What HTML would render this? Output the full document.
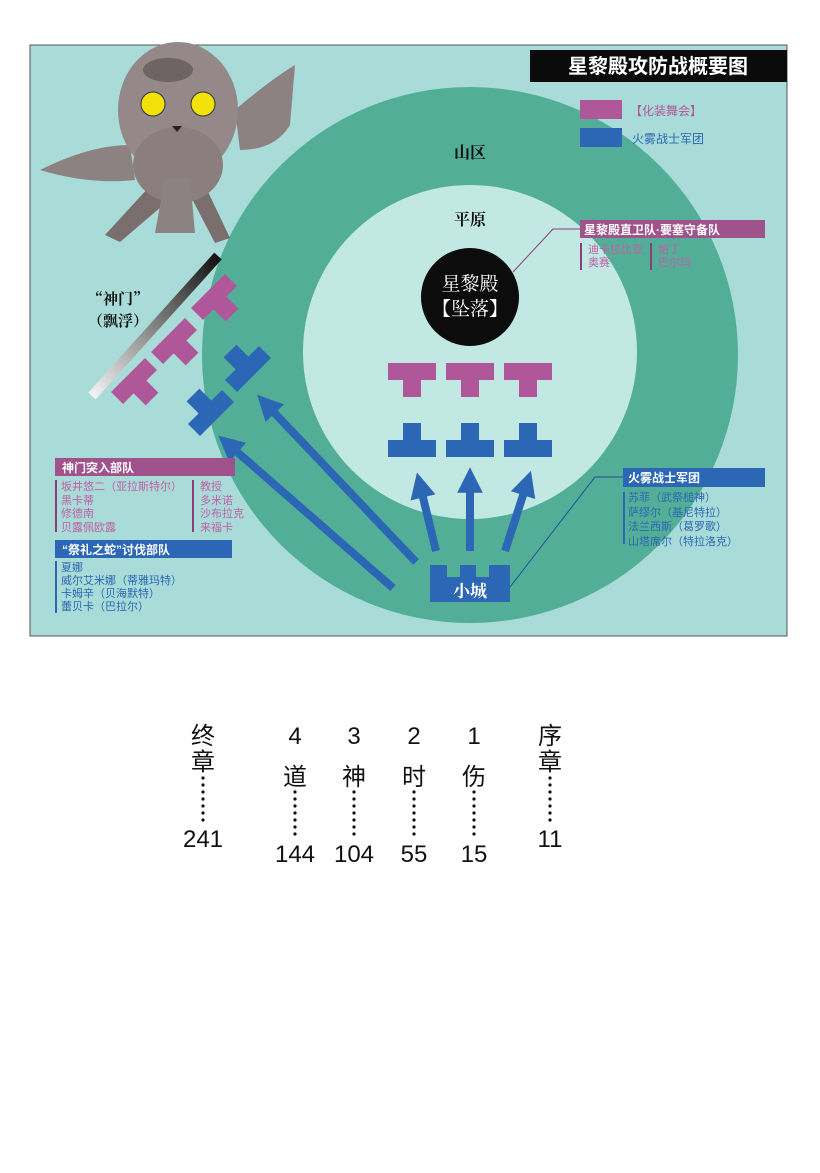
<!DOCTYPE html>
<html><head><meta charset="utf-8"><style>
html,body{margin:0;padding:0;background:#fff;}
svg{display:block}
text{font-family:"Liberation Sans","Noto Sans CJK SC",sans-serif;}
.s{font-family:"Noto Serif CJK SC","Liberation Serif",serif;}
</style></head><body>
<svg width="820" height="1173" viewBox="0 0 820 1173" xmlns="http://www.w3.org/2000/svg">
<defs>
<linearGradient id="gate" x1="1" y1="0" x2="0" y2="1">
<stop offset="0" stop-color="#111"/><stop offset="1" stop-color="#f4f4f4"/></linearGradient>
<clipPath id="mapc"><rect x="30" y="45" width="757" height="591"/></clipPath>
<g id="pT"><path d="M-24,-17h48v17h-15v17h-18v-17h-15z" fill="#b0579a"/></g>
<g id="bT"><path d="M-9,-17h18v17h15v17h-48v-17h15z" fill="#2b67b4"/></g>
<g id="d7"><circle cx="0" cy="0" r="1.6"/><circle cx="0" cy="7" r="1.6"/><circle cx="0" cy="14" r="1.6"/><circle cx="0" cy="21" r="1.6"/><circle cx="0" cy="28" r="1.6"/><circle cx="0" cy="35" r="1.6"/><circle cx="0" cy="42" r="1.6"/></g>
<marker id="ah" viewBox="0 0 10 10" refX="5" refY="5" markerWidth="3.2" markerHeight="3.2" orient="auto"><path d="M0,0L10,5L0,10z" fill="#2b67b4"/></marker>
</defs>
<rect x="30" y="45" width="757" height="591" fill="#a9dcd8" stroke="#555" stroke-width="1"/>
<g clip-path="url(#mapc)">
<circle cx="470" cy="355" r="268" fill="#53ae98"/>
<circle cx="470" cy="352" r="167" fill="#c2e8e4"/>
</g>
<!-- owl -->
<g>
<path d="M40,170 Q90,145 130,145 L135,180 Q90,185 40,170z" fill="#8d8282"/>
<path d="M235,110 Q270,80 295,65 L290,125 Q275,150 240,150z" fill="#8d8282"/>
<path d="M160,175 L105,235 L120,242 L175,195z" fill="#7a6e6e"/>
<path d="M200,175 L230,238 L215,243 L190,195z" fill="#7a6e6e"/>
<ellipse cx="178" cy="110" rx="60" ry="68" fill="#948888"/>
<ellipse cx="178" cy="165" rx="45" ry="38" fill="#8a7e7e"/>
<path d="M165,178 L155,233 L195,233 L190,178z" fill="#8d8282"/>
<ellipse cx="168" cy="70" rx="25" ry="12" fill="#6e6464"/>
<circle cx="153" cy="104" r="12" fill="#f2e20a" stroke="#333"/>
<circle cx="203" cy="104" r="12" fill="#f2e20a" stroke="#333"/>
<path d="M172,126 L182,126 L177,132z" fill="#222"/>
</g>
<!-- gate -->
<line x1="218" y1="256" x2="92" y2="396" stroke="url(#gate)" stroke-width="10"/>
<text x="118" y="304" class="s" font-size="15" font-weight="bold" text-anchor="middle" fill="#111">“神门”</text>
<text x="118" y="326" class="s" font-size="15" font-weight="bold" text-anchor="middle" fill="#111">（飘浮）</text>
<use href="#pT" transform="translate(220,303) rotate(-45)"/>
<use href="#pT" transform="translate(180,347) rotate(-45)"/>
<use href="#pT" transform="translate(140,387) rotate(-45)"/>
<use href="#bT" transform="translate(242,363) rotate(-45)"/>
<use href="#bT" transform="translate(205,407) rotate(-45)"/>
<!-- arrows -->
<g stroke="#2b67b4" stroke-width="8" fill="none" marker-end="url(#ah)">
<line x1="436" y1="551" x2="420" y2="485"/>
<line x1="470" y1="551" x2="470" y2="480"/>
<line x1="505" y1="551" x2="527" y2="483"/>
<line x1="416" y1="562" x2="266" y2="404"/>
<line x1="393" y1="588" x2="228" y2="444"/>
</g>
<!-- center Ts -->
<use href="#pT" transform="translate(412,380)"/>
<use href="#pT" transform="translate(470,380)"/>
<use href="#pT" transform="translate(528,380)"/>
<use href="#bT" transform="translate(412,440)"/>
<use href="#bT" transform="translate(470,440)"/>
<use href="#bT" transform="translate(528,440)"/>
<!-- castle -->
<path d="M430,565h17v12h13v-12h16v12h13v-12h21v37h-80z" fill="#2b67b4"/>
<text x="470" y="597" class="s" font-size="17" font-weight="bold" text-anchor="middle" fill="#fff">小城</text>
<!-- labels -->
<text x="470" y="158" class="s" font-size="16" font-weight="bold" text-anchor="middle" fill="#111">山区</text>
<text x="470" y="225" class="s" font-size="16" font-weight="bold" text-anchor="middle" fill="#111">平原</text>
<circle cx="470" cy="297" r="49" fill="#0c0c0c"/>
<text x="470" y="290" class="s" font-size="19" text-anchor="middle" fill="#fff">星黎殿</text>
<text x="470" y="315" class="s" font-size="19" text-anchor="middle" fill="#fff">【坠落】</text>
<!-- title -->
<rect x="530" y="50" width="257" height="32" fill="#0b0b0b"/>
<text x="658" y="73" font-size="20" font-weight="bold" text-anchor="middle" fill="#fff">星黎殿攻防战概要图</text>
<!-- legend -->
<rect x="580" y="100" width="42" height="19" fill="#b0579a"/>
<text x="630" y="115" font-size="12" fill="#b0579a">【化装舞会】</text>
<rect x="580" y="128" width="42" height="19" fill="#2b67b4"/>
<text x="632" y="143" font-size="12" fill="#2b67b4">火雾战士军团</text>
<!-- direct guard -->
<polyline points="513,272 553,229 580,229" stroke="#8c3d7a" fill="none" stroke-width="1"/>
<rect x="580" y="220" width="185" height="18" fill="#a0528d"/>
<text x="584" y="234" font-size="12" font-weight="bold" fill="#fff">星黎殿直卫队·要塞守备队</text>
<rect x="580" y="243" width="2" height="27" fill="#8c3d7a"/>
<rect x="650" y="243" width="2" height="27" fill="#8c3d7a"/>
<text x="588" y="253" font-size="11" fill="#c060a8">迪卡拉比亚</text>
<text x="588" y="266" font-size="11" fill="#c060a8">奥赛</text>
<text x="658" y="253" font-size="11" fill="#c060a8">帕丁</text>
<text x="658" y="266" font-size="11" fill="#c060a8">巴尔玛</text>
<!-- flame haze -->
<polyline points="510,587 595,477 623,477" stroke="#1f4f95" fill="none" stroke-width="1"/>
<rect x="623" y="468" width="142" height="19" fill="#2b67b4"/>
<text x="628" y="482" font-size="12" font-weight="bold" fill="#fff">火雾战士军团</text>
<rect x="623" y="492" width="2" height="52" fill="#2b67b4"/>
<g font-size="11" fill="#2b67b4">
<text x="628" y="501">苏菲（武祭槌神）</text>
<text x="628" y="516">萨缪尔（基尼特拉）</text>
<text x="628" y="530">法兰西斯（葛罗歌）</text>
<text x="628" y="545">山塔席尔（特拉洛克）</text>
</g>
<!-- left groups -->
<rect x="55" y="458" width="180" height="18" fill="#a0528d"/>
<text x="62" y="472" font-size="12" font-weight="bold" fill="#fff">神门突入部队</text>
<rect x="55" y="480" width="2" height="52" fill="#8c3d7a"/>
<rect x="192" y="480" width="2" height="52" fill="#8c3d7a"/>
<g font-size="11" fill="#c060a8">
<text x="61" y="490">坂井悠二（亚拉斯特尔）</text>
<text x="61" y="504">黑卡蒂</text>
<text x="61" y="517">修德南</text>
<text x="61" y="531">贝露佩欧露</text>
<text x="200" y="490">教授</text>
<text x="200" y="504">多米诺</text>
<text x="200" y="517">沙布拉克</text>
<text x="200" y="531">来福卡</text>
</g>
<rect x="55" y="540" width="177" height="18" fill="#2b67b4"/>
<text x="62" y="554" font-size="12" font-weight="bold" fill="#fff">“祭礼之蛇”讨伐部队</text>
<rect x="55" y="561" width="2" height="52" fill="#2b67b4"/>
<g font-size="11" fill="#2b67b4">
<text x="61" y="571">夏娜</text>
<text x="61" y="584">威尔艾米娜（蒂雅玛特）</text>
<text x="61" y="597">卡姆辛（贝海默特）</text>
<text x="61" y="610">蕾贝卡（巴拉尔）</text>
</g>
<!-- TOC -->
<g font-size="24" fill="#111" text-anchor="middle">
<text x="203" y="744">终</text><text x="203" y="770">章</text>
<text x="203" y="847">241</text>
<text x="295" y="744">4</text><text x="295" y="785">道</text><text x="295" y="862">144</text>
<text x="354" y="744">3</text><text x="354" y="785">神</text><text x="354" y="862">104</text>
<text x="414" y="744">2</text><text x="414" y="785">时</text><text x="414" y="862">55</text>
<text x="474" y="744">1</text><text x="474" y="785">伤</text><text x="474" y="862">15</text>
<text x="550" y="744">序</text><text x="550" y="770">章</text>
<text x="550" y="847">11</text>
</g>
<g fill="#111">
<use href="#d7" x="203" y="778"/>
<use href="#d7" x="550" y="778"/>
<use href="#d7" x="295" y="792"/>
<use href="#d7" x="354" y="792"/>
<use href="#d7" x="414" y="792"/>
<use href="#d7" x="474" y="792"/>
</g>
</svg>
</body></html>
